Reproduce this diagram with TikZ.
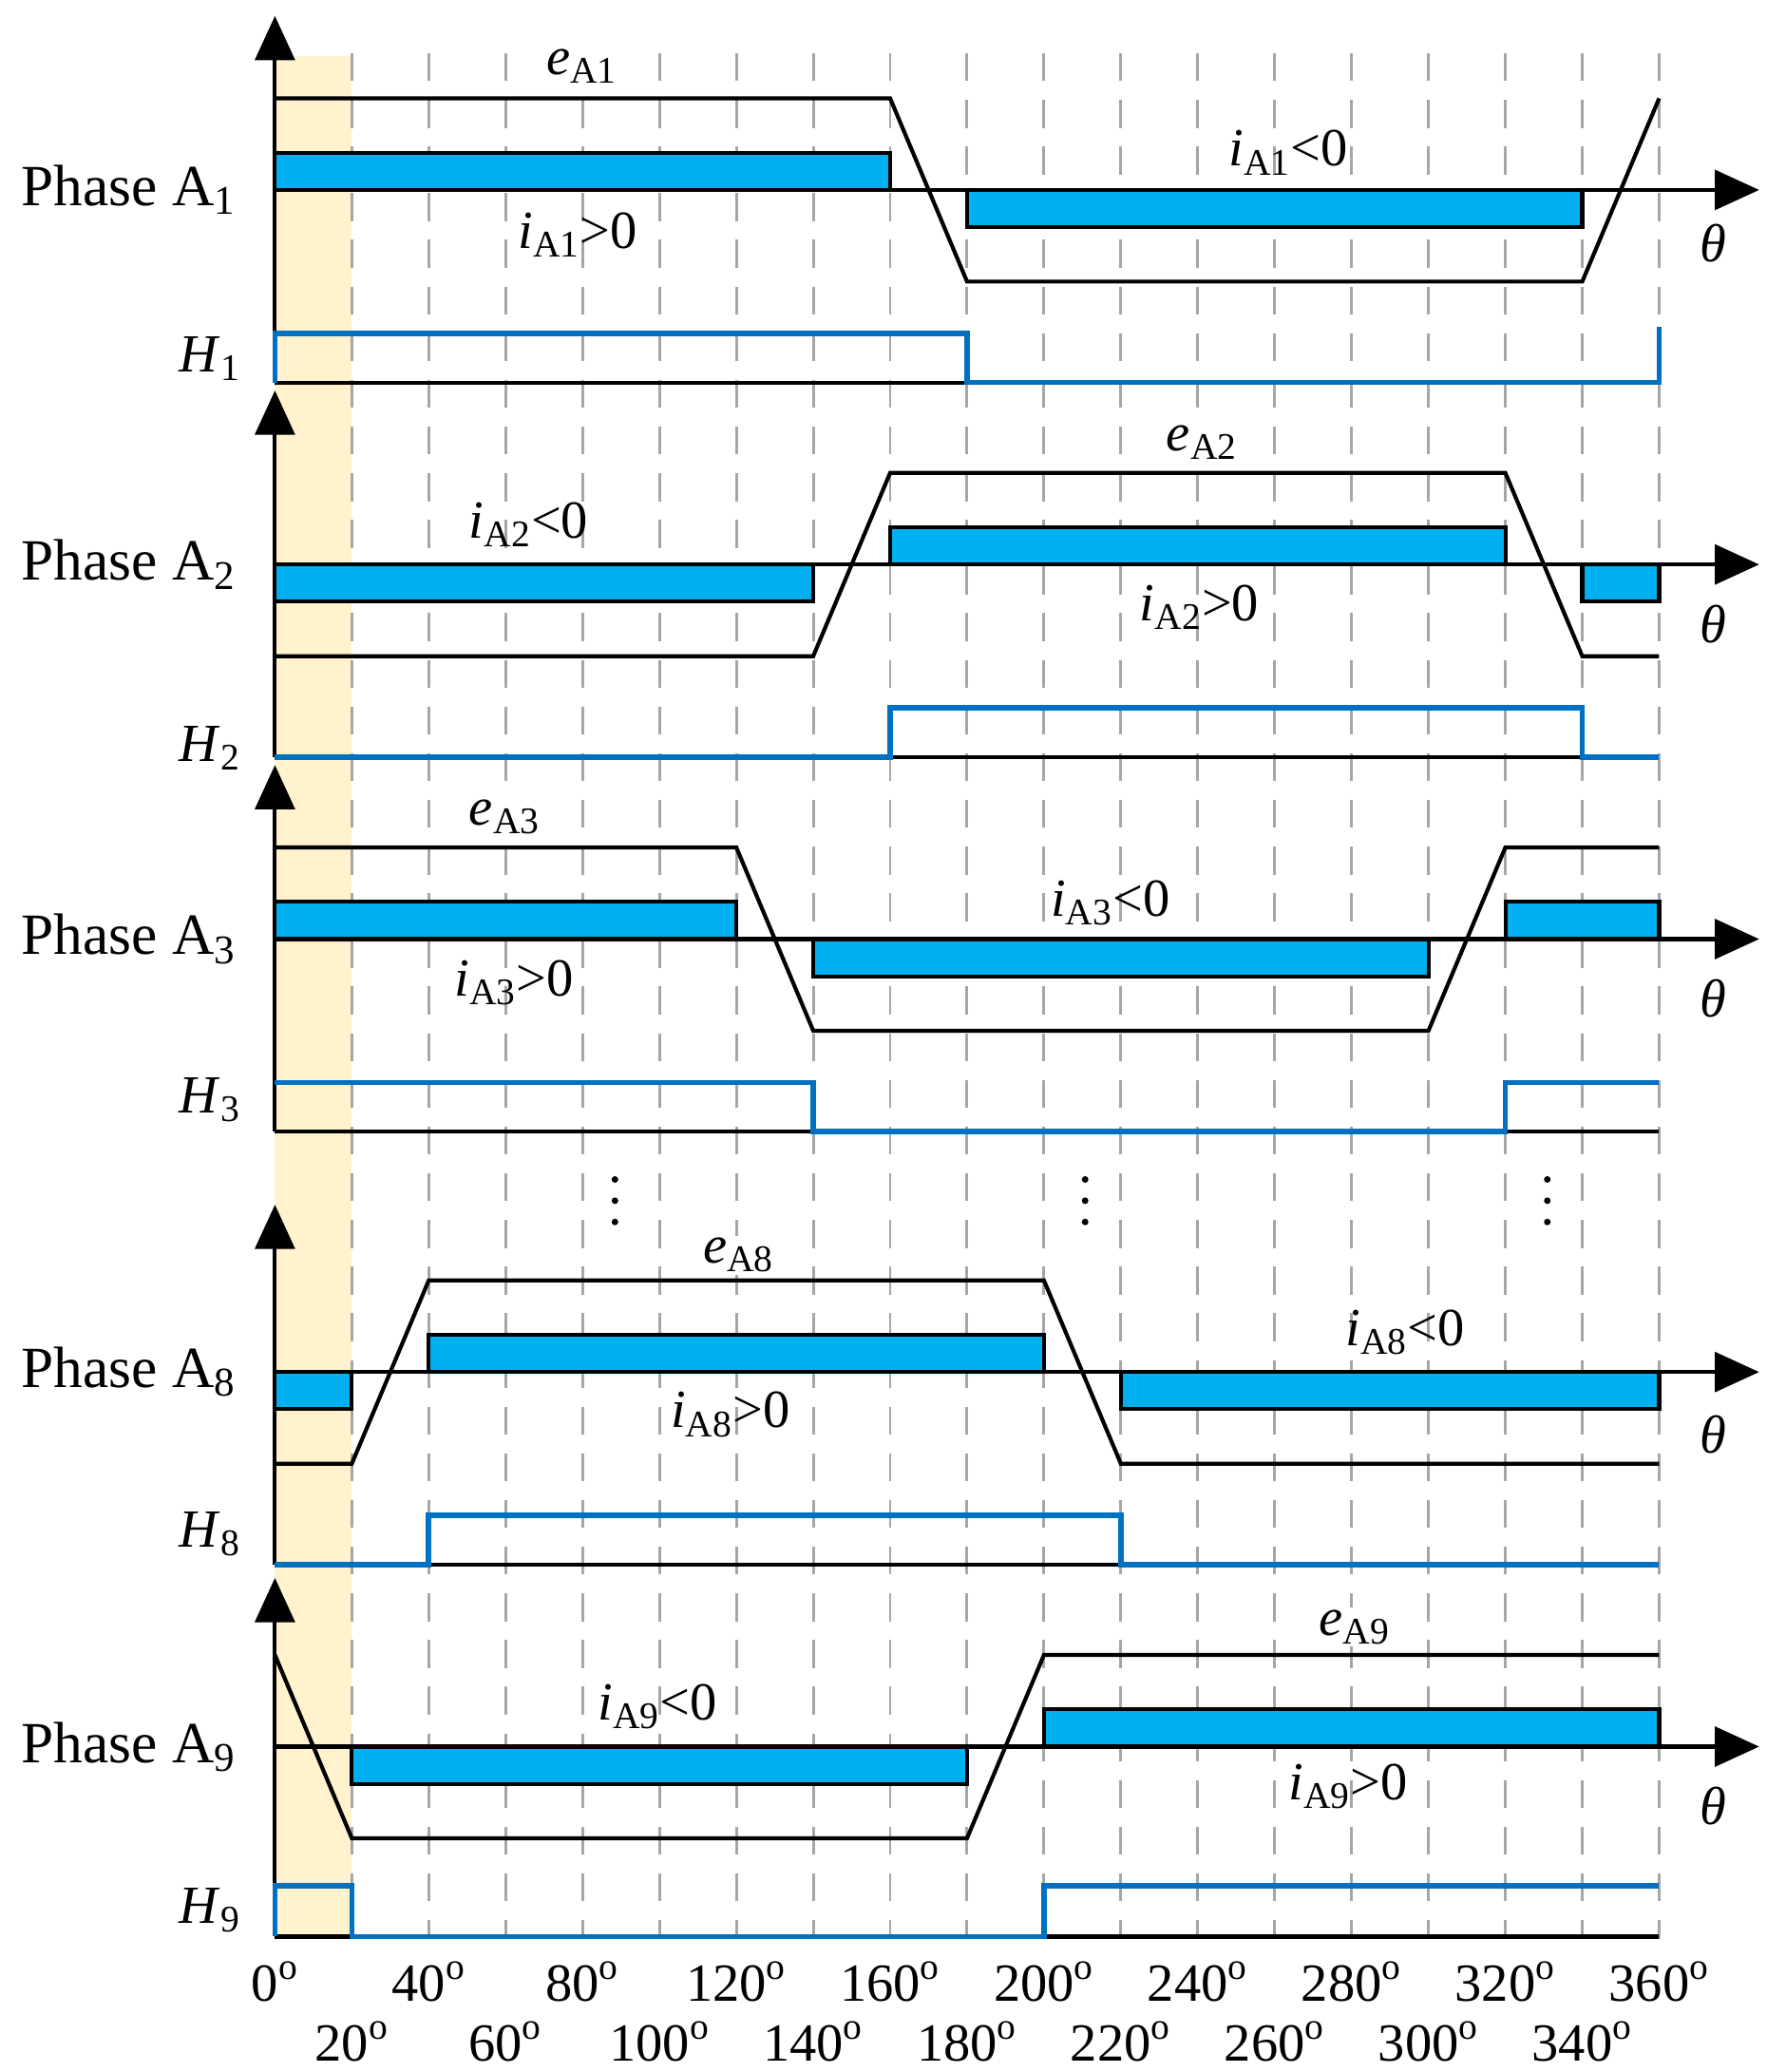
\documentclass[tikz,border=0pt]{standalone}
\usepackage{fontspec}
\setmainfont{Liberation Serif}
\usetikzlibrary{arrows.meta}
\definecolor{bar}{RGB}{0,176,240}
\definecolor{hb}{RGB}{0,112,192}
\definecolor{band}{RGB}{255,242,204}
\newcommand\vv[2]{\textit{#1}\textsubscript{#2}}
\begin{document}
\begin{tikzpicture}[x=0.02cm,y=-0.02cm,
  ln/.style={line width=1.7pt,line join=miter},
  hl/.style={line width=2.3pt,hb},
  br/.style={ln,fill=bar},
  ax/.style={line width=1.7pt,-{Triangle[width=17pt,length=19pt]}},
  lab/.style={font=\fontsize{23}{26}\selectfont,inner sep=1pt},
  el/.style={lab,fill=white}]
\useasboundingbox (0,0) rectangle (1330,1560);
\def\s{2.895}
\fill[band] (207,42) rectangle (265,1460);
\foreach \d in {1,...,18} \draw[gray!70,line width=1.2pt,dash pattern=on 12pt off 8pt] (207+\d*20*\s,40) -- (207+\d*20*\s,1460);
% Phase A1
\begin{scope}[shift={(207,143)},xscale=\s]
\draw[ax] (0,145) -- (0,-131);
\draw[br] (0,-28) rectangle (160,0);
\draw[br] (180,0) rectangle (340,28);
\draw[ax] (0,0) -- (386,0);
\draw[ln] (0,-69) -- (160,-69) -- (180,69) -- (340,69) -- (360,-69);
\draw[ln] (0,145) -- (360,145);
\draw[hl] (0,145) -- (0,108) -- (180,108) -- (180,145) -- (360,145) -- (360,103);
\end{scope}
% Phase A2
\begin{scope}[shift={(207,425)},xscale=\s]
\draw[ax] (0,145) -- (0,-131);
\draw[br] (0,0) rectangle (140,28);
\draw[br] (160,-28) rectangle (320,0);
\draw[br] (340,0) rectangle (360,28);
\draw[ax] (0,0) -- (386,0);
\draw[ln] (0,69) -- (140,69) -- (160,-69) -- (320,-69) -- (340,69) -- (360,69);
\draw[ln] (0,145) -- (360,145);
\draw[hl] (0,145) -- (160,145) -- (160,108) -- (340,108) -- (340,145) -- (360,145);
\end{scope}
% Phase A3
\begin{scope}[shift={(207,707)},xscale=\s]
\draw[ax] (0,145) -- (0,-131);
\draw[br] (0,-28) rectangle (120,0);
\draw[br] (140,0) rectangle (300,28);
\draw[br] (320,-28) rectangle (360,0);
\draw[ax] (0,0) -- (386,0);
\draw[ln] (0,-69) -- (120,-69) -- (140,69) -- (300,69) -- (320,-69) -- (360,-69);
\draw[ln] (0,145) -- (360,145);
\draw[hl] (0,108) -- (140,108) -- (140,145) -- (320,145) -- (320,108) -- (360,108);
\end{scope}
% Phase A8
\begin{scope}[shift={(207,1033)},xscale=\s]
\draw[ax] (0,145) -- (0,-126);
\draw[br] (0,0) rectangle (20,28);
\draw[br] (40,-28) rectangle (200,0);
\draw[br] (220,0) rectangle (360,28);
\draw[ax] (0,0) -- (386,0);
\draw[ln] (0,69) -- (20,69) -- (40,-69) -- (200,-69) -- (220,69) -- (360,69);
\draw[ln] (0,145) -- (360,145);
\draw[hl] (0,145) -- (40,145) -- (40,108) -- (220,108) -- (220,145) -- (360,145);
\end{scope}
% Phase A9
\begin{scope}[shift={(207,1315)},xscale=\s]
\draw[ax] (0,143) -- (0,-127);
\draw[br] (20,0) rectangle (180,28);
\draw[br] (200,-28) rectangle (360,0);
\draw[ax] (0,0) -- (386,0);
\draw[ln] (0,-69) -- (20,69) -- (180,69) -- (200,-69) -- (360,-69);
\draw[ln] (0,143) -- (360,143);
\draw[hl] (0,143) -- (0,105) -- (20,105) -- (20,143) -- (200,143) -- (200,105) -- (360,105);
\end{scope}
% labels
\foreach \y/\n in {143/1,425/2,707/3,1033/8,1315/9}
  \node[lab,font=\fontsize{25}{28}\selectfont] at (97,\y) {Phase A\textsubscript{\n}};
\foreach \y/\n in {270/1,563/2,828/3,1155/8,1438/9}
  \node[lab] at (158,\y) {\vv{H}{\n}};
\foreach \y in {183,470,752,1080,1360}
  \node[lab] at (1290,\y) {\textit{θ}};
\node[el] at (438,50) {\vv{e}{A1}};
\node[lab] at (970,115) {\vv{i}{A1}<0};
\node[lab] at (435,177) {\vv{i}{A1}>0};
\node[el] at (905,333) {\vv{e}{A2}};
\node[lab] at (398,395) {\vv{i}{A2}<0};
\node[lab] at (903,457) {\vv{i}{A2}>0};
\node[el] at (380,615) {\vv{e}{A3}};
\node[lab] at (836,680) {\vv{i}{A3}<0};
\node[lab] at (387,740) {\vv{i}{A3}>0};
\node[el] at (556,945) {\vv{e}{A8}};
\node[lab] at (1058,1003) {\vv{i}{A8}<0};
\node[lab] at (550,1065) {\vv{i}{A8}>0};
\node[el] at (1020,1225) {\vv{e}{A9}};
\node[lab] at (495,1285) {\vv{i}{A9}<0};
\node[lab] at (1015,1345) {\vv{i}{A9}>0};
\foreach \x in {463,817,1165} {
  \fill[white] (\x-8,882) rectangle (\x+8,925);
  \foreach \yy in {888,904,920} \fill (\x,\yy) circle (2.5);
}
\foreach \d in {0,40,...,360}
  \node[lab] at (207+\d*\s,1492) {\d\textsuperscript{o}};
\foreach \d in {20,60,...,340}
  \node[lab] at (207+\d*\s,1537) {\d\textsuperscript{o}};
\end{tikzpicture}
\end{document}
